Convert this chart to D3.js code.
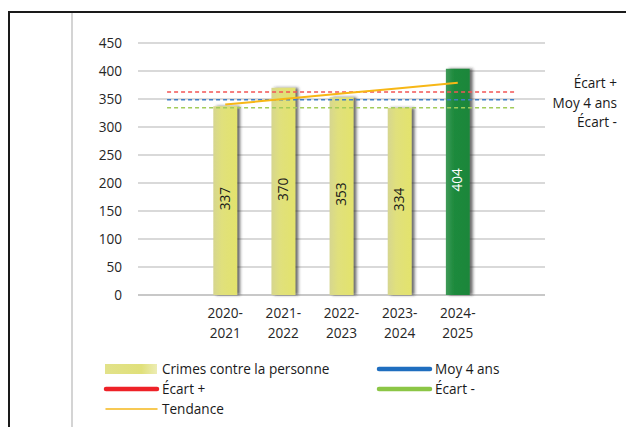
<!DOCTYPE html>
<html>
<head>
<meta charset="utf-8">
<script src="https://cdn.jsdelivr.net/npm/d3@7"></script>
<style>
  html, body { margin: 0; padding: 0; background: #fff; }
  svg { display: block; font-family: "Open Sans", "Noto Sans", sans-serif; }
</style>
</head>
<body>
<svg id="chart" width="626" height="427"></svg>
<script>
// Crimes contre la personne, par année
const categories = ["2020-2021", "2021-2022", "2022-2023", "2023-2024", "2024-2025"];
const crimes = [337, 370, 353, 334, 404];
const tendance = [340, 350, 360, 369, 379];
const moy4ans = 348.5;
const ecartPlus = 362.5;
const ecartMoins = 334.5;
const yTicks = [0, 50, 100, 150, 200, 250, 300, 350, 400, 450];

const FONT = "'Open Sans', 'Noto Sans', sans-serif";
const FS = 13.6;

const svg = d3.select("#chart");
const W = 626, H = 427;

// Outer frame pieces
svg.append("line").attr("x1", 8).attr("x2", W).attr("y1", 12).attr("y2", 12)
  .attr("stroke", "#1a1a1a").attr("stroke-width", 2);
svg.append("line").attr("x1", 9).attr("x2", 9).attr("y1", 12).attr("y2", H)
  .attr("stroke", "#1a1a1a").attr("stroke-width", 2);
svg.append("line").attr("x1", 72).attr("x2", 72).attr("y1", 13).attr("y2", H)
  .attr("stroke", "#d4d4d4").attr("stroke-width", 2);

const plot = { left: 138, right: 545, top: 43, bottom: 295 };

// Seven slots: an empty one on each side of the five seasons
const slots = ["_a", ...categories, "_b"];
const x = d3.scaleBand().domain(slots).range([plot.left, plot.right]).paddingInner(0.59).paddingOuter(0.295);
const xc = d => x(d) + x.bandwidth() / 2;
const y = d3.scaleLinear().domain([0, 450]).range([plot.bottom, plot.top]);

const defs = svg.append("defs");
const gy = defs.append("linearGradient").attr("id", "gYellow").attr("x1", 0).attr("x2", 1).attr("y1", 0).attr("y2", 0);
gy.append("stop").attr("offset", "0%").attr("stop-color", "#d6d690");
gy.append("stop").attr("offset", "35%").attr("stop-color", "#e0e07c");
gy.append("stop").attr("offset", "100%").attr("stop-color", "#e3e36c");
const gg = defs.append("linearGradient").attr("id", "gGreen").attr("x1", 0).attr("x2", 1).attr("y1", 0).attr("y2", 0);
gg.append("stop").attr("offset", "0%").attr("stop-color", "#3f9a58");
gg.append("stop").attr("offset", "35%").attr("stop-color", "#1d8a3c");
gg.append("stop").attr("offset", "100%").attr("stop-color", "#1a863a");
const gl = defs.append("linearGradient").attr("id", "gLegend").attr("x1", 0).attr("x2", 1).attr("y1", 0).attr("y2", 0);
gl.append("stop").attr("offset", "0%").attr("stop-color", "#e2e28a");
gl.append("stop").attr("offset", "70%").attr("stop-color", "#e0e07a");
gl.append("stop").attr("offset", "100%").attr("stop-color", "#ececb4");
const sh = defs.append("filter").attr("id", "shadow").attr("x", "-30%").attr("y", "-5%").attr("width", "160%").attr("height", "110%");
sh.append("feDropShadow").attr("dx", 3).attr("dy", 0).attr("stdDeviation", 1.4)
  .attr("flood-color", "#2a2a2a").attr("flood-opacity", 0.7);

// Gridlines and y labels
const yAxis = d3.axisLeft(y).tickValues(yTicks).tickSize(0).tickPadding(0);
const ga = svg.append("g").attr("transform", `translate(${plot.left - 16},0)`).call(yAxis);
ga.select(".domain").remove();
ga.selectAll("text").attr("font-size", FS).attr("fill", "#262626").attr("font-family", FONT);

svg.append("g").selectAll("line").data(yTicks).join("line")
  .attr("x1", plot.left).attr("x2", plot.right)
  .attr("y1", d => y(d)).attr("y2", d => y(d))
  .attr("stroke", d => d === 0 ? "#c8c8c8" : "#d9d9d9").attr("stroke-width", 2);

// Bars
svg.append("g").selectAll("rect").data(crimes).join("rect")
  .attr("x", (d, i) => x(categories[i]))
  .attr("width", x.bandwidth())
  .attr("y", d => y(d))
  .attr("height", d => y(0) - y(d))
  .attr("fill", (d, i) => i === crimes.length - 1 ? "url(#gGreen)" : "url(#gYellow)")
  .attr("filter", "url(#shadow)");

// Reference lines across the full slot range
const refLines = [
  { v: ecartPlus, c: "#f25555" },
  { v: moy4ans, c: "#3f7ec6" },
  { v: ecartMoins, c: "#a2cc5a" }
];
svg.append("g").selectAll("line").data(refLines).join("line")
  .attr("x1", xc("_a")).attr("x2", xc("_b"))
  .attr("y1", d => y(d.v)).attr("y2", d => y(d.v))
  .attr("stroke", d => d.c).attr("stroke-width", 1.5).attr("stroke-dasharray", "4,3");

// Trend line
svg.append("path")
  .datum(tendance)
  .attr("d", d3.line().x((d, i) => xc(categories[i])).y(d => y(d)))
  .attr("fill", "none").attr("stroke", "#f7b716").attr("stroke-width", 2);

// Value labels inside bars
svg.append("g").selectAll("text").data(crimes).join("text")
  .attr("transform", (d, i) => `translate(${xc(categories[i]) + 4.5},${(y(d) + y(0)) / 2 - 2}) rotate(-90)`)
  .attr("text-anchor", "middle")
  .attr("font-size", FS)
  .attr("fill", (d, i) => i === crimes.length - 1 ? "#ffffff" : "#1a1a1a")
  .text(d => d);

// Category labels on two lines
const xl = svg.append("g").selectAll("text").data(categories).join("text")
  .attr("x", d => xc(d)).attr("y", 318)
  .attr("text-anchor", "middle").attr("font-size", FS).attr("fill", "#262626");
xl.append("tspan").attr("x", d => xc(d)).text(d => d.split("-")[0] + "-");
xl.append("tspan").attr("x", d => xc(d)).attr("dy", 20).text(d => d.split("-")[1]);

// Labels on the right
const rightLabels = [
  { t: "Écart +", y: 83 },
  { t: "Moy 4 ans", y: 103 },
  { t: "Écart -", y: 122 }
];
svg.append("g").selectAll("text").data(rightLabels).join("text")
  .attr("x", 617).attr("y", d => d.y).attr("dy", "0.35em")
  .attr("text-anchor", "end").attr("font-size", FS).attr("fill", "#1a1a1a")
  .text(d => d.t);

// Legend
const legend = [
  { t: "Crimes contre la personne", type: "rect", x: 105, y: 369 },
  { t: "Moy 4 ans", type: "line", c: "#1f6ebf", w: 4.5, x: 378, y: 369 },
  { t: "Écart +", type: "line", c: "#ee2228", w: 4.5, x: 105, y: 389 },
  { t: "Écart -", type: "line", c: "#8cc646", w: 4.5, x: 378, y: 389 },
  { t: "Tendance", type: "line", c: "#f5b81c", w: 1.5, x: 105, y: 409 }
];
const lg = svg.append("g").selectAll("g").data(legend).join("g");
lg.filter(d => d.type === "rect").append("rect")
  .attr("x", d => d.x).attr("y", d => d.y - 5).attr("width", 52).attr("height", 10)
  .attr("fill", "url(#gLegend)");
lg.filter(d => d.type === "line").append("line")
  .attr("x1", d => d.x + 1).attr("x2", d => d.x + 52)
  .attr("y1", d => d.y).attr("y2", d => d.y)
  .attr("stroke", d => d.c).attr("stroke-width", d => d.w).attr("stroke-linecap", "round");
lg.append("text")
  .attr("x", d => d.x + 57).attr("y", d => d.y).attr("dy", "0.35em")
  .attr("font-size", FS).attr("fill", "#1a1a1a")
  .text(d => d.t);
</script>
</body>
</html>
